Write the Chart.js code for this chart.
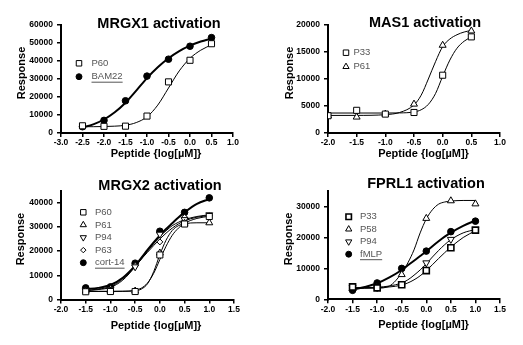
<!DOCTYPE html>
<html><head><meta charset="utf-8">
<script src="https://cdn.jsdelivr.net/npm/chart.js@4.4.0/dist/chart.umd.min.js"></script>
<style>
html,body{margin:0;padding:0;background:#fff;}
#wrap{position:relative;width:523px;height:345px;overflow:hidden;background:#fff;}
canvas{position:absolute;}
</style></head><body>
<div id="wrap">
<canvas id="c1" style="left:0px;top:0px" width="262" height="172"></canvas>
<canvas id="c2" style="left:262px;top:0px" width="261" height="172"></canvas>
<canvas id="c3" style="left:0px;top:172px" width="262" height="173"></canvas>
<canvas id="c4" style="left:262px;top:172px" width="261" height="173"></canvas>
</div>
<script>
// ---------- DATA ----------
// MRGX1 activation
const mrgx1XTicks = [-3.0, -2.5, -2.0, -1.5, -1.0, -0.5, 0.0, 0.5, 1.0];
const mrgx1YTicks = [0, 10000, 20000, 30000, 40000, 50000, 60000];
const mrgx1Doses = [-2.5, -2.0, -1.5, -1.0, -0.5, 0.0, 0.5];
const mrgx1P60 = [4000, 3700, 3800, 9400, 28400, 40400, 49600];
const mrgx1BAM22 = [3500, 7000, 17900, 31600, 41000, 48200, 53000];
const mrgx1CurveX = [-2.5, -2.25, -2.0, -1.75, -1.5, -1.25, -1.0, -0.75, -0.5, -0.25, 0.0, 0.25, 0.5];
const mrgx1P60Curve = [3500, 3500, 3600, 3800, 4300, 5800, 9000, 15500, 25000, 34500, 41500, 46000, 49000];
const mrgx1BAM22Curve = [3000, 4800, 7500, 11500, 16800, 23500, 30500, 36500, 41500, 45500, 48500, 50800, 52500];

// MAS1 activation
const mas1XTicks = [-2.0, -1.5, -1.0, -0.5, 0.0, 0.5, 1.0];
const mas1YTicks = [0, 5000, 10000, 15000, 20000];
const mas1Doses = [-2.0, -1.5, -1.0, -0.5, 0.0, 0.5];
const mas1P33 = [3200, 4200, 3500, 3800, 10700, 17800];
const mas1P61 = [3200, 2950, 3500, 5350, 16250, 18900];
const mas1CurveX = [-2.0, -1.5, -1.0, -0.75, -0.5, -0.375, -0.25, -0.125, 0.0, 0.125, 0.25, 0.375, 0.5];
const mas1P33Curve = [3700, 3700, 3700, 3720, 3900, 4300, 5300, 7300, 10500, 13500, 15700, 17000, 17800];
const mas1P61Curve = [3250, 3260, 3400, 3800, 5200, 7000, 10000, 13200, 16000, 17400, 18200, 18700, 19000];

// MRGX2 activation
const mrgx2XTicks = [-2.0, -1.5, -1.0, -0.5, 0.0, 0.5, 1.0, 1.5];
const mrgx2YTicks = [0, 10000, 20000, 30000, 40000];
const mrgx2Doses = [-1.5, -1.0, -0.5, 0.0, 0.5, 1.0];
const mrgx2P60 = [3200, 3300, 3300, 18400, 31200, 34300];
const mrgx2P61 = [3500, 3500, 3500, 19200, 31500, 31700];
const mrgx2P94 = [3800, 4200, 13500, 27000, 33000, 35000];
const mrgx2P63 = [4000, 4500, 14000, 23800, 34000, 34600];
const mrgx2Cort14 = [4800, 5200, 15000, 28200, 36000, 42000];
const mrgx2CurveX = [-1.5, -1.25, -1.0, -0.75, -0.5, -0.375, -0.25, -0.125, 0.0, 0.125, 0.25, 0.375, 0.5, 0.75, 1.0];
const mrgx2P60Curve = [3300, 3300, 3300, 3400, 3800, 4700, 6800, 10800, 16500, 22000, 26500, 29500, 31500, 33500, 34400];
const mrgx2P61Curve = [3400, 3400, 3400, 3400, 3600, 4300, 6500, 11500, 18500, 24500, 28500, 30500, 31300, 31700, 31700];
const mrgx2P94Curve = [3600, 4100, 5000, 8000, 13500, 16700, 20000, 23000, 26000, 28400, 30500, 31900, 33000, 34300, 35000];
const mrgx2P63Curve = [3800, 4300, 5300, 8500, 13800, 16700, 19500, 22300, 25000, 27400, 29500, 31200, 32500, 34000, 34700];
const mrgx2Cort14Curve = [4300, 4800, 6000, 9000, 14000, 17200, 20500, 23600, 26500, 29100, 31500, 33900, 36000, 39500, 41500];

// FPRL1 activation
const fprl1XTicks = [-2.0, -1.5, -1.0, -0.5, 0.0, 0.5, 1.0, 1.5];
const fprl1YTicks = [0, 10000, 20000, 30000];
const fprl1Doses = [-1.5, -1.0, -0.5, 0.0, 0.5, 1.0];
const fprl1P33 = [4000, 3700, 4700, 9300, 16700, 22400];
const fprl1P58 = [3500, 4000, 8000, 26200, 31900, 30900];
const fprl1P94 = [3800, 3800, 5000, 11800, 19400, 22500];
const fprl1FMLP = [2900, 5300, 10000, 15600, 21900, 25300];
const fprl1CurveX = [-1.5, -1.25, -1.0, -0.75, -0.5, -0.375, -0.25, -0.125, 0.0, 0.125, 0.25, 0.375, 0.5, 0.75, 1.0];
const fprl1P33Curve = [3700, 3750, 3800, 4000, 4600, 5300, 6300, 7600, 9300, 11200, 13200, 15100, 16900, 20000, 22200];
const fprl1P58Curve = [3500, 3550, 3600, 4300, 8500, 11800, 16000, 21500, 26000, 29000, 30800, 31500, 31800, 32000, 32000];
const fprl1P94Curve = [3700, 3800, 3900, 4300, 5300, 6300, 7800, 9500, 11500, 13700, 15800, 17700, 19300, 21500, 22600];
const fprl1FMLPCurve = [3100, 4000, 5200, 7100, 9500, 11000, 12500, 14000, 15500, 17200, 18800, 20300, 21600, 23800, 25500];

// ---------- RENDER ----------
const FONT = '"Liberation Sans", Arial, Helvetica, sans-serif';
Chart.defaults.font.family = FONT;
Chart.defaults.color = '#000';

function pts(xs, ys) { return xs.map((x, i) => ({ x: x, y: ys[i] })); }

function series(label, xs, ys, cx, cy, st) {
  const markers = {
    label: label, data: pts(xs, ys), showLine: false,
    pointStyle: st.style, rotation: st.rot || 0, pointRadius: st.r,
    pointBackgroundColor: st.filled ? '#000' : '#fff', pointBorderColor: '#000',
    pointBorderWidth: st.bw || 1, pointHoverRadius: st.r,
    legendEntry: true, underline: !!st.underline
  };
  const curve = {
    label: label + ' fit', data: pts(cx, cy), showLine: true, pointRadius: 0,
    pointHoverRadius: 0, borderColor: '#000', borderWidth: st.lw || 1,
    cubicInterpolationMode: 'monotone', fill: false, legendEntry: false
  };
  return [markers, curve];
}

function manualPoint(ctx, style, rot, r, x, y, bw) {
  ctx.beginPath();
  if (style === 'circle') { ctx.arc(x, y, r, 0, Math.PI * 2); }
  else if (style === 'rect') { const s = r * Math.SQRT1_2; ctx.rect(x - s, y - s, 2 * s, 2 * s); }
  else if (style === 'rectRot') { ctx.moveTo(x, y - r); ctx.lineTo(x + r, y); ctx.lineTo(x, y + r); ctx.lineTo(x - r, y); ctx.closePath(); }
  else if (style === 'triangle') {
    let a = rot * Math.PI / 180;
    ctx.moveTo(x + Math.sin(a) * r, y - Math.cos(a) * r);
    a += 2 * Math.PI / 3; ctx.lineTo(x + Math.sin(a) * r, y - Math.cos(a) * r);
    a += 2 * Math.PI / 3; ctx.lineTo(x + Math.sin(a) * r, y - Math.cos(a) * r);
    ctx.closePath();
  }
  ctx.fill(); if (bw > 0) ctx.stroke();
}

const panelDecor = {
  id: 'panelDecor',
  afterDraw(chart, args, o) {
    const ctx = chart.ctx, a = chart.chartArea;
    ctx.save();
    ctx.fillStyle = '#000';
    ctx.textAlign = 'center';
    ctx.textBaseline = 'alphabetic';
    ctx.font = 'bold 14.5px ' + FONT;
    ctx.fillText(o.title, a.left + o.titleDx, o.titleY);
    ctx.font = 'bold 11px ' + FONT;
    ctx.textBaseline = 'middle';
    ctx.fillText(o.xTitle, a.left + o.xTitleDx, o.xTitleY);
    ctx.save();
    ctx.translate(a.left + o.yTitleDx, (a.top + a.bottom) / 2 + o.yTitleDy);
    ctx.rotate(-Math.PI / 2);
    ctx.fillText(o.yTitle, 0, 0);
    ctx.restore();
    // legend
    const entries = chart.data.datasets.filter(d => d.legendEntry);
    entries.forEach((d, i) => {
      const y = o.legendY + i * o.legendDy;
      ctx.fillStyle = d.pointBackgroundColor;
      ctx.strokeStyle = d.pointBorderColor;
      ctx.lineWidth = d.pointBorderWidth;
      if (Chart.helpers && Chart.helpers.drawPoint) {
        Chart.helpers.drawPoint(ctx, { pointStyle: d.pointStyle, rotation: d.rotation, radius: d.pointRadius * 0.9, borderWidth: d.pointBorderWidth }, o.legendX, y);
      } else {
        manualPoint(ctx, d.pointStyle, d.rotation, d.pointRadius * 0.9, o.legendX, y, d.pointBorderWidth);
      }
      ctx.fillStyle = '#555';
      ctx.font = '9.5px ' + FONT;
      ctx.textAlign = 'left';
      ctx.textBaseline = 'middle';
      ctx.fillText(d.label, o.legendTextX, y);
      if (d.underline) {
        const w = ctx.measureText(d.label).width;
        ctx.strokeStyle = '#555'; ctx.lineWidth = 1;
        ctx.beginPath(); ctx.moveTo(o.legendTextX, y + 5.5); ctx.lineTo(o.legendTextX + w, y + 5.5); ctx.stroke();
      }
    });
    ctx.restore();
  }
};

function makePanel(id, p) {
  const cv = document.getElementById(id);
  const W = cv.width, H = cv.height;
  const markerSets = [], curveSets = [];
  p.series.forEach(s => { markerSets.push(s[0]); curveSets.push(s[1]); });
  const datasets = markerSets.concat(curveSets);
  new Chart(cv, {
    type: 'scatter',
    data: { datasets: datasets },
    options: {
      responsive: false, animation: false, devicePixelRatio: 1,
      events: [],
      layout: { padding: { left: 0, right: W - p.area.r, top: p.area.t, bottom: 0 } },
      plugins: {
        legend: { display: false }, tooltip: { enabled: false }, title: { display: false },
        panelDecor: p.decor
      },
      scales: {
        x: {
          type: 'linear', min: p.xTicks[0], max: p.xTicks[p.xTicks.length - 1],
          ticks: { autoSkip: false, maxRotation: 0, padding: 1, color: '#000',
            font: { size: 8.5, weight: 'bold' }, callback: v => Number(v).toFixed(1) },
          afterBuildTicks: s => { s.ticks = p.xTicks.map(v => ({ value: v })); },
          grid: { display: true, drawOnChartArea: false, drawTicks: true, tickLength: 4, color: '#000', lineWidth: 1.5 },
          border: { display: true, color: '#000', width: 2 },
          afterFit: s => { s.height = H - p.area.b; }
        },
        y: {
          type: 'linear', min: 0, max: p.yMax,
          ticks: { padding: 4, color: '#000',
            font: { size: 8.5, weight: 'bold' }, callback: v => String(v) },
          afterBuildTicks: s => { s.ticks = p.yTicks.map(v => ({ value: v })); },
          grid: { display: true, drawOnChartArea: false, drawTicks: true, tickLength: 4, color: '#000', lineWidth: 1.5 },
          border: { display: true, color: '#000', width: 2 },
          afterFit: s => { s.width = p.area.l; }
        }
      }
    },
    plugins: [panelDecor]
  });
}

const SQ = { style: 'rect', r: 4.3 };
const CI = { style: 'circle', r: 3.3, filled: true, lw: 2, underline: true };
const TR = { style: 'triangle', r: 4 };
const TD = { style: 'triangle', r: 4, rot: 180 };
const DI = { style: 'rectRot', r: 3 };

makePanel('c1', {
  xTicks: mrgx1XTicks, yTicks: mrgx1YTicks, yMax: 60000,
  area: { l: 61, r: 233, t: 25, b: 133 },
  decor: { title: 'MRGX1 activation', titleDx: 98, titleY: 27.5,
    xTitle: 'Peptide {log[µM]}', xTitleDx: 95, xTitleY: 154,
    yTitle: 'Response', yTitleDx: -39, yTitleDy: -6,
    legendX: 79, legendY: 63.3, legendDy: 13.4, legendTextX: 91.5 },
  series: [
    series('P60', mrgx1Doses, mrgx1P60, mrgx1CurveX, mrgx1P60Curve, SQ),
    series('BAM22', mrgx1Doses, mrgx1BAM22, mrgx1CurveX, mrgx1BAM22Curve, CI)
  ]
});

makePanel('c2', {
  xTicks: mas1XTicks, yTicks: mas1YTicks, yMax: 20000,
  area: { l: 66, r: 238, t: 25, b: 133 },
  decor: { title: 'MAS1 activation', titleDx: 97, titleY: 27,
    xTitle: 'Peptide {log[µM]}', xTitleDx: 95.5, xTitleY: 154,
    yTitle: 'Response', yTitleDx: -38.5, yTitleDy: -6,
    legendX: 84, legendY: 52.7, legendDy: 14, legendTextX: 91.5 },
  series: [
    series('P33', mas1Doses, mas1P33, mas1CurveX, mas1P33Curve, SQ),
    series('P61', mas1Doses, mas1P61, mas1CurveX, mas1P61Curve, TR)
  ]
});

makePanel('c3', {
  xTicks: mrgx2XTicks, yTicks: mrgx2YTicks, yMax: 45000,
  area: { l: 61, r: 234, t: 18.6, b: 127.5 },
  decor: { title: 'MRGX2 activation', titleDx: 99, titleY: 17.5,
    xTitle: 'Peptide {log[µM]}', xTitleDx: 95, xTitleY: 154,
    yTitle: 'Response', yTitleDx: -40, yTitleDy: -6,
    legendX: 83.3, legendY: 40.3, legendDy: 12.6, legendTextX: 95 },
  series: [
    series('P60', mrgx2Doses, mrgx2P60, mrgx2CurveX, mrgx2P60Curve, SQ),
    series('P61', mrgx2Doses, mrgx2P61, mrgx2CurveX, mrgx2P61Curve, TR),
    series('P94', mrgx2Doses, mrgx2P94, mrgx2CurveX, mrgx2P94Curve, TD),
    series('P63', mrgx2Doses, mrgx2P63, mrgx2CurveX, mrgx2P63Curve, DI),
    series('cort-14', mrgx2Doses, mrgx2Cort14, mrgx2CurveX, mrgx2Cort14Curve, CI)
  ]
});

makePanel('c4', {
  xTicks: fprl1XTicks, yTicks: fprl1YTicks, yMax: 35000,
  area: { l: 66, r: 238, t: 19.2, b: 127.3 },
  decor: { title: 'FPRL1 activation', titleDx: 98, titleY: 15.7,
    xTitle: 'Peptide {log[µM]}', xTitleDx: 95.5, xTitleY: 152.5,
    yTitle: 'Response', yTitleDx: -39, yTitleDy: -6.4,
    legendX: 86.7, legendY: 44.7, legendDy: 12.5, legendTextX: 98 },
  series: [
    series('P33', fprl1Doses, fprl1P33, fprl1CurveX, fprl1P33Curve, { style: 'rect', r: 4.3, bw: 1.6 }),
    series('P58', fprl1Doses, fprl1P58, fprl1CurveX, fprl1P58Curve, TR),
    series('P94', fprl1Doses, fprl1P94, fprl1CurveX, fprl1P94Curve, TD),
    series('fMLP', fprl1Doses, fprl1FMLP, fprl1CurveX, fprl1FMLPCurve, CI)
  ]
});
</script>
</body></html>
